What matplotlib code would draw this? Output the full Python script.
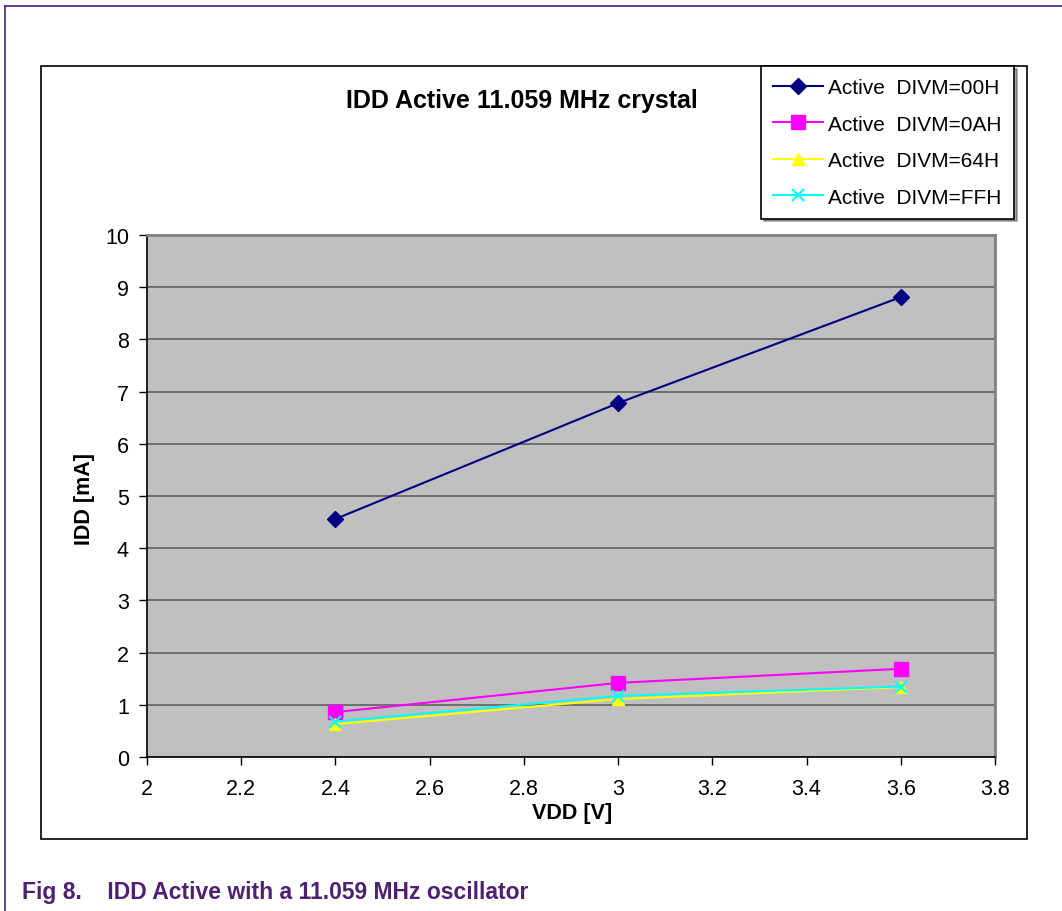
import matplotlib
matplotlib.use("Agg")
import matplotlib.pyplot as plt
from matplotlib.lines import Line2D
from matplotlib.patches import Rectangle

plt.rcParams['font.family'] = ['Liberation Sans', 'DejaVu Sans']

vdd = [2.4, 3.0, 3.6]
idd_00h = [4.56, 6.78, 8.81]
idd_0ah = [0.86, 1.42, 1.69]
idd_64h = [0.63, 1.11, 1.34]
idd_ffh = [0.68, 1.17, 1.35]
labels = ["Active  DIVM=00H", "Active  DIVM=0AH", "Active  DIVM=64H", "Active  DIVM=FFH"]
x_ticks = [2, 2.2, 2.4, 2.6, 2.8, 3, 3.2, 3.4, 3.6, 3.8]
x_tick_labels = ["2", "2.2", "2.4", "2.6", "2.8", "3", "3.2", "3.4", "3.6", "3.8"]
y_ticks = list(range(0, 11))

W, H = 1062, 912
fig = plt.figure(figsize=(W / 100, H / 100), dpi=100)

def fx(px):
    return px / W

def fy(py):
    return 1 - py / H

purple = "#4F1F73"
# outer document frame
fig.add_artist(Line2D([fx(5), 1.0], [fy(7), fy(7)], color=purple, lw=1.2))
fig.add_artist(Line2D([fx(5), fx(5)], [fy(7), 0.0], color=purple, lw=1.2))

# chart box
fig.add_artist(Rectangle((fx(41), fy(840)), fx(1027 - 41), (840 - 67) / H,
                         facecolor="white", edgecolor="black", lw=1.2, zorder=0))

ax = fig.add_axes([fx(147), fy(758), fx(995 - 147), (758 - 236) / H])
ax.set_facecolor("#C0C0C0")
ax.set_xlim(2, 3.8)
ax.set_ylim(0, 10)
ax.set_xticks(x_ticks)
ax.set_xticklabels(x_tick_labels)
ax.set_yticks(y_ticks)
ax.tick_params(direction="out", length=6, width=1, labelsize=15.5, colors="black")
ax.tick_params(axis="x", pad=9)
ax.tick_params(axis="y", pad=7)
for s in ["left", "bottom"]:
    ax.spines[s].set_color("black")
    ax.spines[s].set_linewidth(1.2)
for s in ["top", "right"]:
    ax.spines[s].set_color("#808080")
    ax.spines[s].set_linewidth(2)
ax.yaxis.grid(True, color="#606060", lw=1.2)
ax.set_axisbelow(True)

ax.plot(vdd, idd_00h, color="#000080", lw=1.5, marker="D", ms=8, label=labels[0], zorder=3)
ax.plot(vdd, idd_0ah, color="#FF00FF", lw=1.5, marker="s", ms=10, label=labels[1], zorder=3)
ax.plot(vdd, idd_64h, color="#FFFF00", lw=1.5, marker="^", ms=9, label=labels[2], zorder=3)
ax.plot(vdd, idd_ffh, color="#00FFFF", lw=1.5, marker="x", ms=9, mew=1.5, label=labels[3], zorder=4)

ax.set_xlabel("VDD [V]", fontsize=15.5, fontweight="bold")
ax.set_ylabel("IDD [mA]", fontsize=15.5, fontweight="bold")
ax.xaxis.set_label_coords((572 - 147) / 848, (758 - 803) / 522)
ax.yaxis.set_label_coords((95 - 147) / 848, (758 - 499) / 522)

fig.text(fx(522), fy(101), "IDD Active 11.059 MHz crystal", fontsize=18,
         fontweight="bold", ha="center", va="center")

leg = fig.legend(loc="upper left", bbox_to_anchor=(fx(761), fy(67)), fontsize=15,
                 frameon=True, fancybox=False, shadow=True, edgecolor="black",
                 framealpha=1, borderpad=0.58, labelspacing=0.84, handlelength=2.4,
                 handletextpad=0.25, borderaxespad=0)
leg.get_frame().set_linewidth(1.2)

fig.text(fx(22), fy(893), "Fig 8.    IDD Active with a 11.059 MHz oscillator", fontsize=16.5,
         fontweight="bold", color=purple, ha="left", va="center")

fig.savefig("out.png", dpi=100)
